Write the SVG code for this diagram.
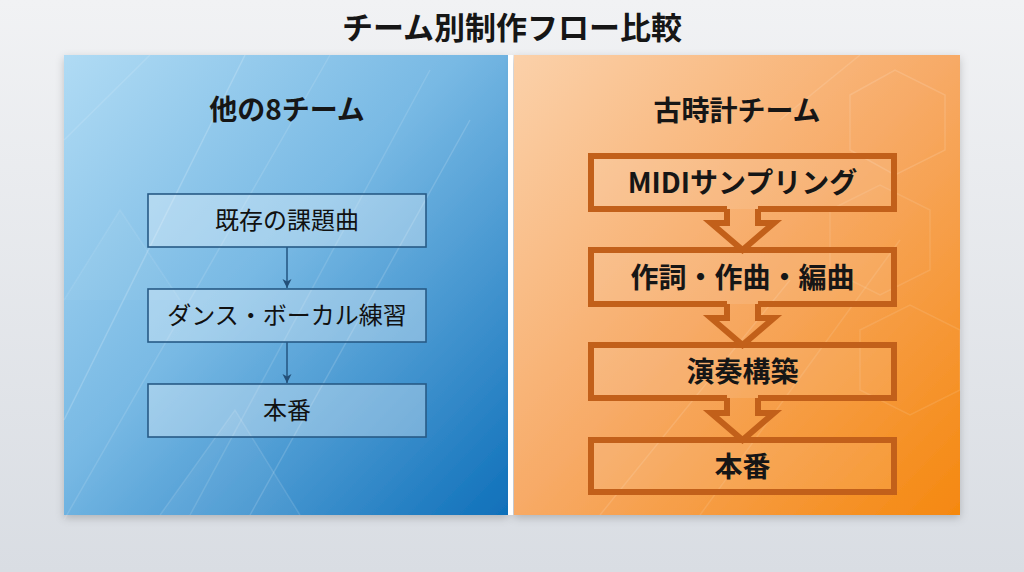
<svg xmlns="http://www.w3.org/2000/svg" width="1024" height="572" viewBox="0 0 1024 572">
  <defs>
    <linearGradient id="bg" x1="0" y1="0" x2="0" y2="1">
      <stop offset="0" stop-color="#f1f2f4"/>
      <stop offset="1" stop-color="#d9dde3"/>
    </linearGradient>
    <linearGradient id="blue" x1="0" y1="0" x2="1" y2="1">
      <stop offset="0" stop-color="#b0dbf4"/>
      <stop offset="0.45" stop-color="#78b9e4"/>
      <stop offset="1" stop-color="#0f70ba"/>
    </linearGradient>
    <linearGradient id="orange" x1="0" y1="0" x2="1" y2="1">
      <stop offset="0" stop-color="#fbd1aa"/>
      <stop offset="0.5" stop-color="#f7aa66"/>
      <stop offset="1" stop-color="#f5880f"/>
    </linearGradient>
    <filter id="shadow" x="-5%" y="-5%" width="110%" height="112%">
      <feDropShadow dx="0" dy="3" stdDeviation="4" flood-color="#000" flood-opacity="0.2"/>
    </filter>
    <marker id="ah" viewBox="0 0 10 10" refX="9" refY="5" markerWidth="10" markerHeight="10" markerUnits="userSpaceOnUse" orient="auto">
      <path d="M0,0.5 L9,5 L0,9.5 L2.5,5 Z" fill="#234f78"/>
    </marker>
    <style>
      .t { font-family: "Noto Sans CJK JP", "Noto Sans", sans-serif; fill: #161616; text-anchor: middle; }
      .h1 { font-size: 31px; font-weight: 700; }
      .h2 { font-size: 28px; font-weight: 700; }
      .lb { font-size: 24px; font-weight: 400; fill: #111111; }
      .rb { font-size: 28px; font-weight: 700; }
      .lbox { fill: #ffffff; fill-opacity: 0.32; stroke: #275a86; stroke-width: 1.6; }
      .rfill { fill: #ffffff; fill-opacity: 0.1; stroke: none; }
      .rline { fill: none; stroke: #c2601a; stroke-width: 6; stroke-linejoin: miter; }
      .lconn { fill: none; stroke: #275a86; stroke-width: 1.6; }
      .deco { fill: none; stroke: #ffffff; stroke-width: 1.5; }
    </style>
  </defs>

  <rect x="0" y="0" width="1024" height="572" fill="url(#bg)"/>

  <!-- title -->
  <text class="t h1" x="512" y="39">チーム別制作フロー比較</text>

  <!-- panels -->
  <g id="panel-left">
    <rect x="64" y="55" width="444" height="460" fill="url(#blue)" filter="url(#shadow)"/>
    <g class="deco">
      <path d="M64 420 L245 55" stroke-opacity="0.18"/>
      <path d="M64 520 L330 55" stroke-opacity="0.12"/>
      <path d="M190 515 L430 70" stroke-opacity="0.12"/>
      <path d="M250 515 L470 120" stroke-opacity="0.15"/>
      <path d="M64 140 L150 55" stroke-opacity="0.12"/>
      <path d="M160 515 L235 410 L300 515" stroke-opacity="0.12" fill="#ffffff" fill-opacity="0.05"/>
      <path d="M64 300 L120 210 L180 300" stroke-opacity="0.08" fill="#ffffff" fill-opacity="0.04"/>
    </g>
    <text class="t h2" x="287" y="120">他の8チーム</text>
  </g>

  <g id="panel-right">
    <rect x="514" y="55" width="446" height="460" fill="url(#orange)" filter="url(#shadow)"/>
    <g class="deco">
      <path d="M850 95 L895 70 L945 95 L945 150 L895 175 L850 150 Z" stroke-opacity="0.13"/>
      <path d="M830 210 L880 185 L930 210 L930 270 L880 295 L830 270 Z" stroke-opacity="0.1"/>
      <path d="M860 330 L910 305 L960 330 L960 390 L910 415 L860 390 Z" stroke-opacity="0.1"/>
      <path d="M600 515 L790 280" stroke-opacity="0.12"/>
      <path d="M700 515 L900 240" stroke-opacity="0.1"/>
      <path d="M780 120 L860 55" stroke-opacity="0.12"/>
    </g>
    <text class="t h2" x="737" y="121">古時計チーム</text>
  </g>

  <!-- divider -->
  <rect x="508" y="55" width="5" height="460" fill="#ffffff"/>

  <!-- left flow nodes -->
  <g id="l1">
    <rect class="lbox" x="148" y="194" width="278" height="53"/>
    <text class="t lb" x="287" y="229">既存の課題曲</text>
  </g>
  <g id="l2">
    <rect class="lbox" x="148" y="289" width="278" height="53"/>
    <text class="t lb" x="287" y="324">ダンス・ボーカル練習</text>
  </g>
  <g id="l3">
    <rect class="lbox" x="148" y="384" width="278" height="53"/>
    <text class="t lb" x="287" y="419">本番</text>
  </g>

  <!-- right flow nodes -->
  <g id="r1">
    <rect class="rfill" x="591" y="156" width="303" height="53"/>
    <path class="rline" d="M727 209 H591 V156 H894 V209 H758"/>
    <text class="t rb" x="742.5" y="193">MIDIサンプリング</text>
  </g>
  <g id="r2">
    <rect class="rfill" x="591" y="250" width="303" height="54"/>
    <path class="rline" d="M727 304 H591 V250 H894 V304 H758"/>
    <text class="t rb" x="742.5" y="288">作詞・作曲・編曲</text>
  </g>
  <g id="r3">
    <rect class="rfill" x="591" y="345" width="303" height="53"/>
    <path class="rline" d="M727 398 H591 V345 H894 V398 H758"/>
    <text class="t rb" x="742.5" y="382">演奏構築</text>
  </g>
  <g id="r4">
    <rect class="rfill" x="591" y="440" width="303" height="52"/>
    <path class="rline" d="M591 440 H894 V492 H591 Z"/>
    <text class="t rb" x="742.5" y="477">本番</text>
  </g>

  <!-- connectors -->
  <g id="connectors">
    <path class="lconn" d="M287 247 V288" marker-end="url(#ah)"/>
    <path class="lconn" d="M287 342 V383" marker-end="url(#ah)"/>
    <path class="rline" d="M727 209 V223 H711 L742.5 250 L774 223 H758 V209"/>
    <path class="rline" d="M727 304 V318 H711 L742.5 345 L774 318 H758 V304"/>
    <path class="rline" d="M727 398 V413 H711 L742.5 440 L774 413 H758 V398"/>
  </g>
</svg>
